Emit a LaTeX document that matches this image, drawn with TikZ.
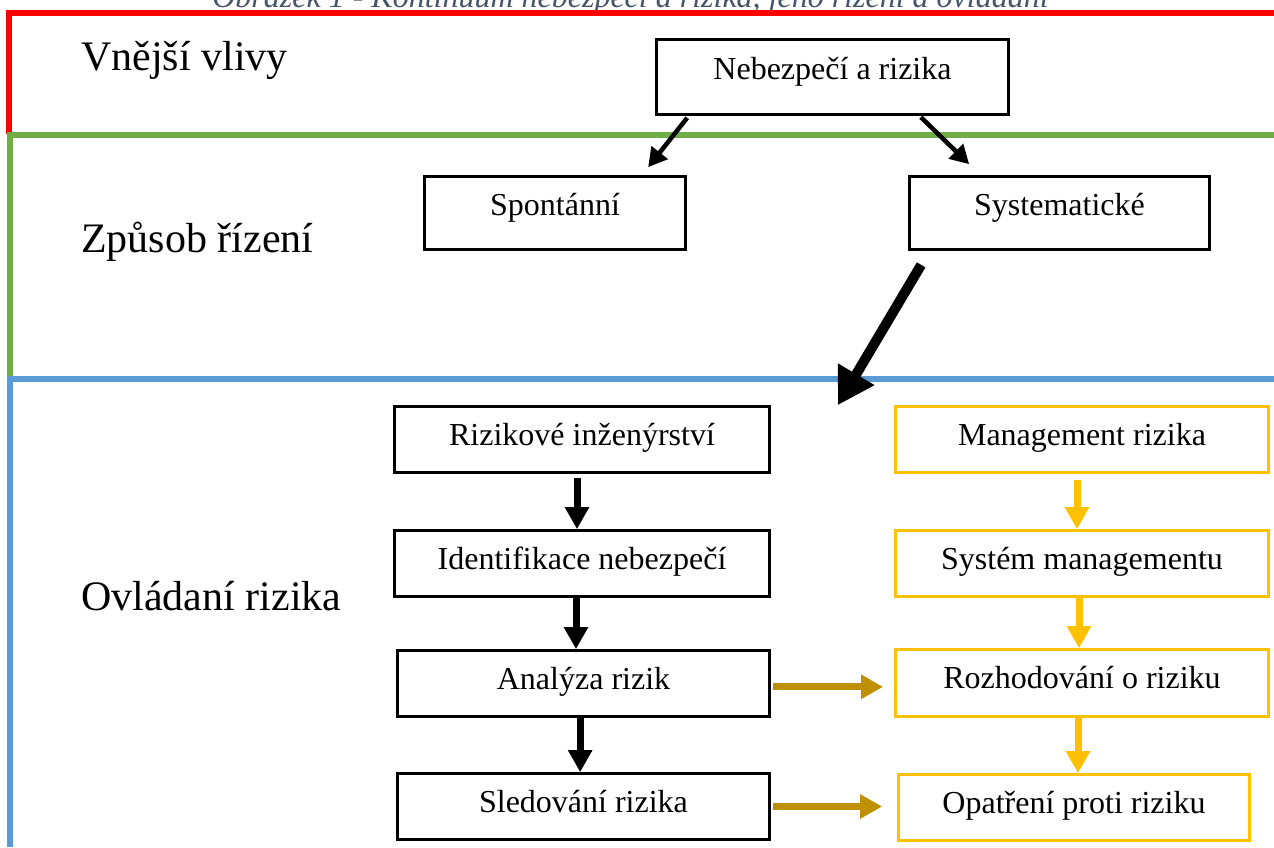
\documentclass[tikz,border=0pt]{standalone}
\usepackage{fontspec}
\setmainfont{Liberation Serif}
\usetikzlibrary{arrows.meta}
\definecolor{capcol}{HTML}{44546A}
\definecolor{linered}{HTML}{FF0000}
\definecolor{linegreen}{HTML}{70AD47}
\definecolor{lineblue}{HTML}{5B9BD5}
\definecolor{boxyellow}{HTML}{FFC000}
\definecolor{arrgold}{HTML}{BF9000}
\begin{document}
\begin{tikzpicture}[x=0.75pt,y=-0.75pt,
  box/.style 2 args={draw=black, line width=2pt, inner sep=0pt,
    minimum width=0.75pt*#1, minimum height=0.75pt*#2,
    font=\fontsize{24}{28}\selectfont, text height=15.6pt, text depth=7.2pt},
  topbox/.style 2 args={box={#1}{#2}, text height=13.5pt, text depth=9.9pt},
  ybox/.style 2 args={box={#1}{#2}, draw=boxyellow},
  lane/.style={line width=4.5pt},
  sidelabel/.style={anchor=base west, inner sep=0pt, font=\fontsize{31.5}{36}\selectfont},
  blackarr/.style={draw=black, line width=5.25pt, -{Triangle[width=17.25pt,length=16.5pt]}},
  goldarr/.style={draw=arrgold, line width=5.25pt, -{Triangle[width=17.25pt,length=16.5pt]}},
  yarr/.style={draw=boxyellow, line width=5.25pt, -{Triangle[width=17.25pt,length=16.5pt]}},
  thinarr/.style={draw=black, line width=3.4pt, -{Triangle[width=15pt,length=14pt]}},
  bigarr/.style={draw=black, line width=7.5pt, -{Triangle[width=30pt,length=27pt]}}
]
\useasboundingbox (0,0) rectangle (1274,847);

% caption (cut at top, as in the reference)
\node[anchor=base, inner sep=0pt, text=capcol, font=\fontsize{24}{28}\selectfont\itshape] (caption) at (630.5,7) {Obrázek 1 - Kontinuum nebezpečí a rizika, jeho řízení a ovládání};

% lanes
\coordinate (rA) at (9,13);  \coordinate (rB) at (1274,13);  \coordinate (rC) at (9,134);
\coordinate (gA) at (10,134.5); \coordinate (gB) at (1274,134.5); \coordinate (gC) at (10,379);
\coordinate (bA) at (10,379); \coordinate (bB) at (1274,379); \coordinate (bC) at (10,847);
\draw[lane, draw=linered] (rB) -- (rA) -- (rC);
\draw[lane, draw=linegreen] (gB) -- (gA) -- (gC);
\draw[lane, draw=lineblue] (bB) -- (bA) -- (bC);

% lane labels
\node[sidelabel] (l1) at (81,70) {Vnější vlivy};
\node[sidelabel] (l2) at (81,252) {Způsob řízení};
\node[sidelabel] (l3) at (81,610) {Ovládaní rizika};

% boxes
\node[topbox={352}{75}] (nebez) at (832.5,77) {Nebezpečí a rizika};
\node[topbox={261}{73}] (spont) at (555,213) {Spontánní};
\node[topbox={300}{73}] (syst) at (1059.5,213) {Systematické};

\node[box={375}{66}] (rizik) at (582,439.5) {Rizikové inženýrství};
\node[box={375}{66}] (ident) at (582,563.5) {Identifikace nebezpečí};
\node[box={372}{66}] (analyza) at (583.5,683.5) {Analýza rizik};
\node[box={372}{66}] (sled) at (583.5,806.5) {Sledování rizika};

\node[ybox={373}{66}] (mgmt) at (1082,439.5) {Management rizika};
\node[ybox={373}{66}] (system) at (1082,563.5) {Systém managementu};
\node[ybox={373}{67}] (rozh) at (1082,683) {Rozhodování o riziku};
\node[ybox={351}{66}] (opat) at (1074,807.5) {Opatření proti riziku};

% arrows top
\draw[thinarr] ([xshift=24pt,yshift=-1.5pt]nebez.south west) -- ([xshift=-29pt,yshift=6pt]spont.north east);
\draw[thinarr] ([xshift=-66.75pt,yshift=-1pt]nebez.south east) -- ([xshift=45.75pt,yshift=8.25pt]syst.north west);
\draw[bigarr] ([xshift=9.75pt,yshift=-10.5pt]syst.south west) -- ([xshift=50.25pt]rizik.north east);

% left column
\draw[blackarr, shorten <=3pt] ([xshift=-3.75pt]rizik.south) -- ([xshift=-3.75pt]rizik.south |- ident.north);
\draw[blackarr] ([xshift=-4.5pt]ident.south) -- ([xshift=-4.5pt]ident.south |- analyza.north);
\draw[blackarr] ([xshift=-2.5pt]analyza.south) -- ([xshift=-2.5pt]analyza.south |- sled.north);

% cross arrows
\draw[goldarr, shorten <=1.5pt, shorten >=8.25pt] ([yshift=-2.5pt]analyza.east) -- ([yshift=-2.5pt]analyza.east -| rozh.west);
\draw[goldarr, shorten <=1.5pt, shorten >=11.25pt] (sled.east) -- (sled.east -| opat.west);

% right column
\draw[yarr, shorten <=4.5pt] ([xshift=-3.75pt]mgmt.south) -- ([xshift=-3.75pt]mgmt.south |- system.north);
\draw[yarr] ([xshift=-2.25pt]system.south) -- ([xshift=-2.25pt]system.south |- rozh.north);
\draw[yarr] ([xshift=-3pt]rozh.south) -- ([xshift=-3pt]rozh.south |- opat.north);
\end{tikzpicture}
\end{document}
